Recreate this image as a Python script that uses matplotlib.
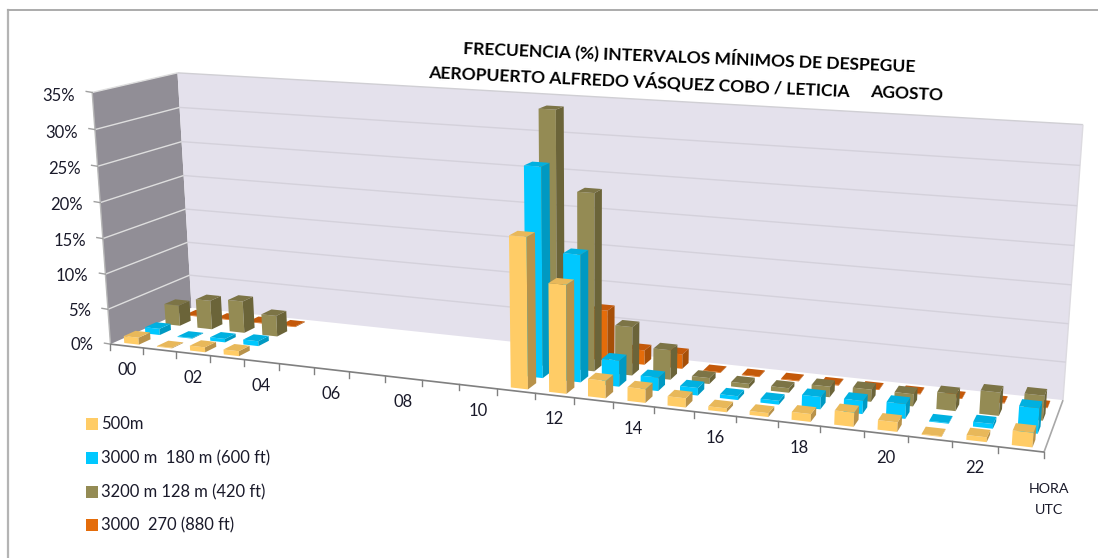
import numpy as np
import matplotlib
matplotlib.use("Agg")
import matplotlib.pyplot as plt

plt.rcParams['font.family'] = ['Lato', 'DejaVu Sans']

# values, one entry per hour 00..23
hours = list(range(24))
s500 = [1.0, 0.1, 0.7, 0.7, 0, 0, 0, 0, 0, 0, 0, 20.0, 14.3, 2.3, 1.8, 1.2, 0.5, 0.5, 1.0, 1.8, 1.2, 0.1, 0.6, 1.8]
s3000 = [0.9, 0.1, 0.5, 0.7, 0, 0, 0, 0, 0, 0, 0, 28.0, 17.0, 3.5, 1.8, 1.0, 0.5, 0.5, 1.6, 1.7, 1.9, 0.1, 0.6, 3.2]
s3200 = [3.0, 4.2, 4.6, 3.0, 0, 0, 0, 0, 0, 0, 0, 34.5, 24.0, 6.6, 4.0, 0.8, 0.6, 0.6, 1.4, 1.6, 1.6, 2.2, 3.0, 3.2]
s270 = [0.1, 0.1, 0.1, 0.1, 0, 0, 0, 0, 0, 0, 0, 2.0, 7.0, 2.0, 2.0, 0.1, 0.1, 0.1, 0.1, 0.1, 0.1, 0.1, 0.1, 0.1]

series = [s500, s3000, s3200, s270]
names = ['500m', '3000 m  180 m (600 ft)', '3200 m 128 m (420 ft)', '3000  270 (880 ft)']
front_col = ['#FFCC66', '#00C8FF', '#948B54', '#E46C0A']
top_col = ['#E8B85A', '#00B0E0', '#7C7446', '#C4590A']
side_col = ['#B8924A', '#0099C2', '#6B6439', '#A64F08']

y_ticks = [0, 5, 10, 15, 20, 25, 30, 35]
x_labels = ['00', '02', '04', '06', '08', '10', '12', '14', '16', '18', '20', '22']

# camera: fit a projection from the box corners to picture pixels
box = [(0, 0, 0), (0, 0, 35), (0, 4, 0), (0, 4, 35), (24, 4, 0), (24, 4, 35), (24, 0, 0)]
pix = [(110, 342), (92.7, 93), (192, 310), (177, 72), (1063, 398), (1083, 125), (1044, 454)]
A, b = [], []
for (X, Y, Z), (u, v) in zip(box, pix):
    A.append([X, Y, Z, 1, 0, 0, 0, 0, -u * X, -u * Y, -u * Z])
    A.append([0, 0, 0, 0, X, Y, Z, 1, -v * X, -v * Y, -v * Z])
    b += [u, v]
p = np.linalg.lstsq(np.array(A, float), np.array(b, float), rcond=None)[0]
P = np.append(p, 1).reshape(3, 4)


def proj(x, y, z):
    q = P @ np.array([x, y, z, 1.0])
    return q[0] / q[2], q[1] / q[2]


fig = plt.figure(figsize=(10.98, 5.58), dpi=100)
ax = fig.add_axes([0, 0, 1, 1])
ax.set_xlim(0, 1098)
ax.set_ylim(558, 0)
ax.axis('off')


def face(pts, col, z=1, ec='none'):
    ax.fill(*zip(*[proj(*c) for c in pts]), color=col, zorder=z, ec=ec, lw=0.5)


def seg(a, b, col, lw=1.0, z=2):
    xa, ya = proj(*a)
    xb, yb = proj(*b)
    ax.plot([xa, xb], [ya, yb], color=col, lw=lw, zorder=z, solid_capstyle='butt')


# frame of the picture, only left and top show
ax.plot([8, 8], [10, 558], color='#B4B4B4', lw=1.6)
ax.plot([8, 1098], [10, 10], color='#ABABAB', lw=1.4)

# walls and floor
face([(0, 0, 0), (0, 4, 0), (0, 4, 35), (0, 0, 35)], '#918E96')
face([(0, 4, 0), (24, 4, 0), (24, 4, 35), (0, 4, 35)], '#E4E1EC')
seg((0, 4, 35), (24, 4, 35), '#D0CFD4', 1.0)
seg((24, 4, 35), (24, 4, 0), '#DCDAE0', 1.0)
seg((24, 4, 0), (24, 0, 0), '#A8A8A8', 1.2)
for t in y_ticks[1:]:
    seg((0, 0, t), (0, 4, t), '#DEDEDE', 1.0)
    if t < 35:
        seg((0, 4, t), (24, 4, t), '#D4D1DB', 1.0)

# axes with their ticks
seg((0, 0, 0), (0, 0, 35), '#B8B8B8', 1.0, 3)
seg((0, 0, 0), (24, 0, 0), '#808080', 1.2, 3)
for t in y_ticks:
    x0, y0 = proj(0, 0, t)
    ax.plot([x0 - 6, x0], [y0 - 1, y0], color='#A0A0A0', lw=1, zorder=3)
    ax.text(x0 - 17, y0 + 1 + t * 0.08, '%d%%' % t, ha='right', va='center', fontsize=12, color='#1A1A2A')
for h in range(25):
    x0, y0 = proj(h, 0, 0)
    ax.plot([x0, x0], [y0, y0 + 6], color='#808080', lw=1, zorder=3)
for i, lab in enumerate(x_labels):
    x0, y0 = proj(2 * i + 0.5, 0, 0)
    ax.text(x0, y0 + 24, lab, ha='center', va='center', fontsize=12, color='#1A1A2A')

# bars, back row first and left to right inside a row
w = 0.45
d = 0.55
for s in [3, 2, 1, 0]:
    for h in hours:
        v = series[s][h]
        if v <= 0:
            continue
        x0, x1 = h + 0.5 - w / 2, h + 0.5 + w / 2
        y0, y1 = s + 0.5 - d / 2, s + 0.5 + d / 2
        z = 10 + (3 - s) * 30 + h
        face([(x0, y0, 0), (x1, y0, 0), (x1, y0, v), (x0, y0, v)], front_col[s], z)
        face([(x1, y0, 0), (x1, y1, 0), (x1, y1, v), (x1, y0, v)], side_col[s], z)
        face([(x0, y0, v), (x1, y0, v), (x1, y1, v), (x0, y1, v)], top_col[s], z)

# legend
leg_y = [424, 458, 492, 525]
for name, col, yy in zip(names, front_col, leg_y):
    ax.scatter([92], [yy], marker='s', s=85, color=col, lw=0)
    ax.text(101, yy, name, ha='left', va='center', fontsize=11.9, color='#1A1A2A')

ax.text(1049, 489, 'HORA', ha='center', va='center', fontsize=10.3, color='#1A1A2A')
ax.text(1049, 510, 'UTC', ha='center', va='center', fontsize=10.3, color='#1A1A2A')

# title is skewed with the chart in the original
ax.text(689, 56, 'FRECUENCIA (%) INTERVALOS MÍNIMOS DE DESPEGUE', ha='center', va='center',
        fontsize=12.6, fontweight='bold', rotation=-2.3, rotation_mode='anchor', color='black')
ax.text(639, 81, 'AEROPUERTO ALFREDO VÁSQUEZ COBO / LETICIA', ha='center', va='center',
        fontsize=12.6, fontweight='bold', rotation=-2.6, rotation_mode='anchor', color='black')
ax.text(907, 94, 'AGOSTO', ha='center', va='center',
        fontsize=12.6, fontweight='bold', rotation=-2.8, rotation_mode='anchor', color='black')

fig.savefig('out.png', dpi=100)
